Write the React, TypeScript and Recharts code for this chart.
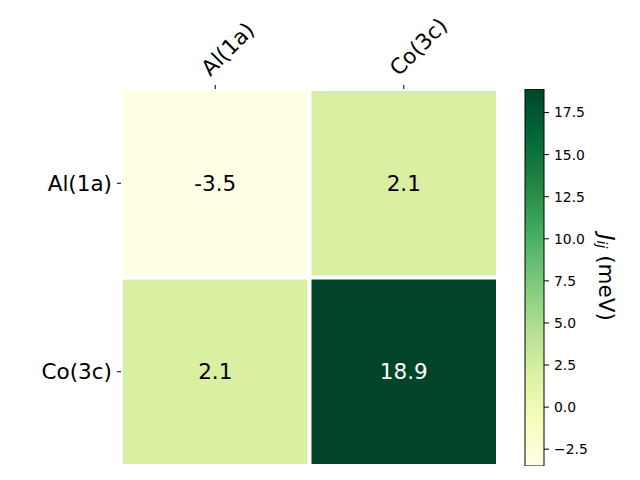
import { Bar, BarChart, Label, Scatter, ScatterChart, XAxis, YAxis } from 'recharts';

const sites = ['Al(1a)', 'Co(3c)'];
const jRowAl = [-3.5, 2.1];
const jRowCo = [2.1, 18.9];
const jMatrix = [jRowAl, jRowCo];

const vMin = -3.5;
const vMax = 18.9;
const colorbarTicks = [-2.5, 0, 2.5, 5, 7.5, 10, 12.5, 15, 17.5];

// matplotlib YlGn
const ylgn = ['#ffffe5', '#f7fcb9', '#d9f0a3', '#addd8e', '#78c679', '#41ab5d', '#238443', '#006837', '#004529'];

const FONT = 'DejaVu Sans';
const BIG = 21.5;
const CELL = 377 / 2;

function hexToRgb(hex: string) {
    const n = parseInt(hex.slice(1), 16);
    return [(n >> 16) & 255, (n >> 8) & 255, n & 255];
}

function colorFor(value: number) {
    const t = Math.min(1, Math.max(0, (value - vMin) / (vMax - vMin)));
    const pos = t * (ylgn.length - 1);
    const i = Math.min(ylgn.length - 2, Math.floor(pos));
    const f = pos - i;
    const a = hexToRgb(ylgn[i]);
    const b = hexToRgb(ylgn[i + 1]);
    const c = a.map((v, k) => Math.round(v + (b[k] - v) * f));
    return `rgb(${c[0]},${c[1]},${c[2]})`;
}

const cells = jMatrix.flatMap((row, r) => row.map((value, c) => ({ row: r, col: c, value })));
const colorbarData = [{ name: 'J', range: [vMin, vMax] }];

function HeatCell(props: any) {
    const { cx, cy, payload } = props;
    const t = (payload.value - vMin) / (vMax - vMin);
    return (
        <g>
            <rect x={cx - CELL / 2 + 2} y={cy - CELL / 2 + 2} width={CELL - 4} height={CELL - 4} fill={colorFor(payload.value)} />
            <text
                x={cx}
                y={cy}
                textAnchor="middle"
                dominantBaseline="central"
                fontFamily={FONT}
                fontSize={BIG}
                fill={t > 0.6 ? '#ffffff' : '#000000'}
            >
                {payload.value.toFixed(1)}
            </text>
        </g>
    );
}

function RotatedTick(props: any) {
    const { x, y, payload } = props;
    const ax = x - 5;
    const ay = y - 8;
    return (
        <text x={ax} y={ay} transform={`rotate(-45, ${ax}, ${ay})`} textAnchor="start" fontFamily={FONT} fontSize={BIG} fill="#000">
            {sites[payload.value]}
        </text>
    );
}

function ColorbarLabel(props: any) {
    const { viewBox } = props;
    const cx = viewBox.x + 63;
    const cy = viewBox.y + viewBox.height / 2;
    return (
        <text
            x={cx}
            y={cy}
            transform={`rotate(90, ${cx}, ${cy})`}
            textAnchor="middle"
            dominantBaseline="central"
            fontFamily={FONT}
            fontSize={BIG}
            fill="#000"
        >
            <tspan fontStyle="italic">J</tspan>
            <tspan fontStyle="italic" fontSize={14} dy={5}>ij</tspan>
            <tspan dy={-5}> (meV)</tspan>
        </text>
    );
}

function formatColorbarTick(value: number) {
    return value.toFixed(1).replace('-', '\u2212');
}

export default function App() {
    return (
        <div style={{ position: 'absolute', left: 0, top: 0, width: 640, height: 480, background: '#fff' }}>
            <div style={{ position: 'absolute', left: 0, top: 0 }}>
                <ScatterChart width={640} height={480} margin={{ top: 29, right: 142, bottom: 14, left: 61 }}>
                    <XAxis
                        type="number"
                        dataKey="col"
                        orientation="top"
                        domain={[-0.5, 1.5]}
                        ticks={[0, 1]}
                        interval={0}
                        height={60}
                        axisLine={false}
                        tickLine={{ stroke: '#000' }}
                        tickSize={4}
                        tickMargin={0}
                        tick={<RotatedTick />}
                    />
                    <YAxis
                        type="number"
                        dataKey="row"
                        reversed
                        domain={[-0.5, 1.5]}
                        ticks={[0, 1]}
                        interval={0}
                        width={60}
                        axisLine={false}
                        tickLine={{ stroke: '#000' }}
                        tickSize={4}
                        tickMargin={5}
                        tick={{ fill: '#000', fontSize: BIG, fontFamily: FONT }}
                        tickFormatter={(v: number) => sites[v]}
                    />
                    <Scatter data={cells} shape={<HeatCell />} isAnimationActive={false} />
                </ScatterChart>
            </div>
            <div style={{ position: 'absolute', left: 0, top: 0 }}>
                <BarChart
                    width={640}
                    height={480}
                    data={colorbarData}
                    margin={{ top: 89, right: 36, bottom: 14, left: 525 }}
                    barCategoryGap={0}
                >
                    <defs>
                        <linearGradient id="ylgnGrad" x1="0" y1="1" x2="0" y2="0">
                            {ylgn.map((c, i) => (
                                <stop key={c} offset={i / (ylgn.length - 1)} stopColor={c} />
                            ))}
                        </linearGradient>
                    </defs>
                    <XAxis dataKey="name" hide />
                    <YAxis
                        orientation="right"
                        type="number"
                        domain={[vMin, vMax]}
                        ticks={colorbarTicks}
                        interval={0}
                        allowDataOverflow
                        width={60}
                        axisLine={false}
                        tickLine={{ stroke: '#000' }}
                        tickSize={5}
                        tickMargin={5}
                        tick={{ fill: '#000', fontSize: 13.9, fontFamily: FONT }}
                        tickFormatter={formatColorbarTick}
                    >
                        <Label content={<ColorbarLabel />} />
                    </YAxis>
                    <Bar dataKey="range" fill="url(#ylgnGrad)" stroke="#000" strokeWidth={1} isAnimationActive={false} />
                </BarChart>
            </div>
        </div>
    );
}
